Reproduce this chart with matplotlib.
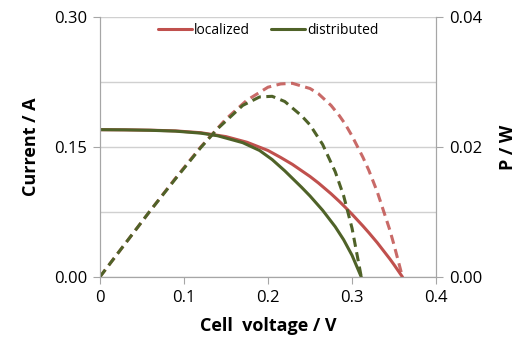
import matplotlib
matplotlib.use('Agg')
import matplotlib.pyplot as plt
from matplotlib.ticker import FixedLocator, FuncFormatter

plt.rcParams['font.family'] = ['Open Sans', 'DejaVu Sans']

# localized (red)
v_loc = [0, 0.03, 0.06, 0.09, 0.12, 0.15, 0.175, 0.20, 0.215, 0.229, 0.25, 0.26, 0.275, 0.285, 0.292, 0.30, 0.313, 0.32, 0.33, 0.345, 0.35, 0.36]
i_loc = [0.170, 0.1698, 0.1694, 0.1686, 0.1665, 0.162, 0.1555, 0.146, 0.138, 0.130, 0.116, 0.1085, 0.0961, 0.0871, 0.0804, 0.0724, 0.0588, 0.0511, 0.0396, 0.0208, 0.0141, 0.0]
p_loc = [0.0, 0.0051, 0.0102, 0.0152, 0.0200, 0.0243, 0.0272, 0.0292, 0.0297, 0.0298, 0.0290, 0.0282, 0.0264, 0.0248, 0.0235, 0.0217, 0.0184, 0.0164, 0.0131, 0.0072, 0.0049, 0.0]

# distributed (green)
v_dis = [0, 0.03, 0.06, 0.09, 0.12, 0.14, 0.17, 0.19, 0.205, 0.22, 0.24, 0.25, 0.265, 0.28, 0.29, 0.30, 0.311]
i_dis = [0.170, 0.1698, 0.1693, 0.1683, 0.166, 0.163, 0.155, 0.146, 0.1355, 0.1225, 0.1035, 0.0935, 0.077, 0.058, 0.043, 0.025, 0.0]
p_dis = [0.0, 0.0051, 0.0102, 0.0151, 0.0199, 0.0228, 0.0264, 0.0277, 0.0278, 0.0270, 0.0248, 0.0234, 0.0204, 0.0162, 0.0125, 0.0075, 0.0]

red = '#C0504D'
green = '#4F6228'
grid_c = '#D0D0D0'
spine_c = '#A6A6A6'

fig = plt.figure(figsize=(5.28, 3.47), dpi=100)
ax = fig.add_axes([0.189, 0.2017, 0.637, 0.7493])
ax2 = ax.twinx()

ax.plot(v_loc, i_loc, color=red, lw=2.2, label='localized', solid_capstyle='round', solid_joinstyle='round')
ax.plot(v_dis, i_dis, color=green, lw=2.2, label='distributed', solid_capstyle='round', solid_joinstyle='round')
ax2.plot(v_loc, p_loc, color=red, lw=2.2, ls=(0, (3, 1.8)), alpha=0.85)
ax2.plot(v_dis, p_dis, color=green, lw=2.2, ls=(0, (3, 1.8)))

ax.set_xlim(0, 0.4)
ax.set_ylim(0, 0.30)
ax2.set_ylim(0, 0.04)

ax.xaxis.set_major_locator(FixedLocator([0, 0.1, 0.2, 0.3, 0.4]))
ax.xaxis.set_major_formatter(FuncFormatter(lambda x, p: '0' if x == 0 else f'{x:.1f}'))
ax.yaxis.set_major_locator(FixedLocator([0, 0.15, 0.30]))
ax.yaxis.set_minor_locator(FixedLocator([0.075, 0.225]))
ax.yaxis.set_major_formatter(FuncFormatter(lambda y, p: f'{y:.2f}'))
ax2.yaxis.set_major_locator(FixedLocator([0, 0.02, 0.04]))
ax2.yaxis.set_major_formatter(FuncFormatter(lambda y, p: f'{y:.2f}'))

ax.grid(axis='y', which='both', color=grid_c, lw=1)
ax.set_axisbelow(True)
ax.tick_params(axis='y', which='minor', length=0)
for a in (ax, ax2):
    a.tick_params(which='major', direction='out', length=5, color=spine_c, labelsize=12, pad=4)
    for s in a.spines.values():
        s.set_color(spine_c)
    a.spines['top'].set_visible(False)

ax.set_xlabel('Cell  voltage / V', fontsize=13, fontweight='bold', labelpad=8)
ax.set_ylabel('Current / A', fontsize=13, fontweight='bold', labelpad=10)
ax2.set_ylabel('P / W', fontsize=13, fontweight='bold', labelpad=12)

ax.legend(loc='upper center', bbox_to_anchor=(0.5, 1.025), ncol=2, frameon=False,
          fontsize=10, handlelength=2.5, handletextpad=0.1, columnspacing=1.5)

fig.savefig('out.png', dpi=100)
